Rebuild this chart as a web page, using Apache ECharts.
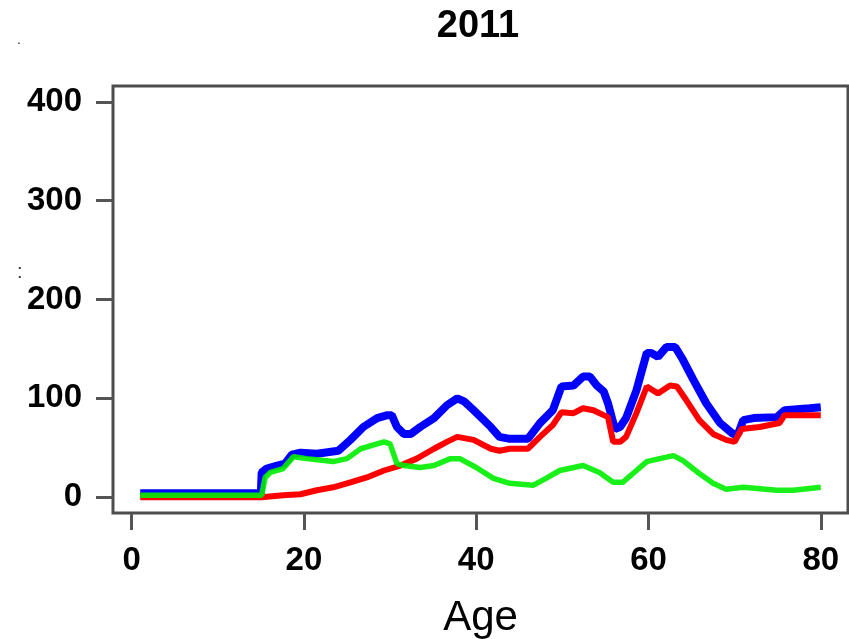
<!DOCTYPE html>
<html>
<head>
<meta charset="utf-8">
<script src="https://cdn.jsdelivr.net/npm/echarts@6/dist/echarts.min.js"></script>
<style>
html,body{margin:0;padding:0;background:#fff;}
#chart{width:849px;height:639px;}
</style>
</head>
<body>
<div id="chart"></div>
<script>
// ---- data ----
var titleText = '2011';
var xName = 'Age';
var xTicks = [0, 20, 40, 60, 80];
var yTicks = [0, 100, 200, 300, 400];

var blueAge = [1, 15, 15.1, 15.7, 16.9, 17.8, 18.6, 19.6, 21.5, 24, 25.4, 26.9, 28.5, 29.7, 30.2, 30.8, 31.6, 32.4, 33.5, 35.1, 36.6, 37.8, 38.6, 39.7, 41.7, 42.7, 43.9, 46, 47.4, 48.9, 49.9, 51.3, 52.4, 53.2, 54, 54.8, 55.3, 56.1, 56.7, 57.4, 58.6, 59.8, 60.3, 61.1, 62.1, 63.1, 64, 65.2, 66.7, 68.3, 69.8, 70.4, 71, 72.2, 74.9, 75.8, 78.7, 80];
var blueVal = [4, 4, 25, 29, 32, 34, 43, 45, 44, 47, 58, 71, 80, 83, 83, 71, 64, 64, 71, 80, 93, 100, 97, 88, 71, 61, 59, 59, 75, 88, 112, 113, 122, 122, 113, 107, 95, 69, 71, 80, 108, 146, 146, 142, 152, 152, 139, 119, 95, 75, 64, 64, 78, 80, 81, 88, 90, 91];

var redAge = [1, 15.1, 17.6, 19.6, 21.5, 23.4, 25.4, 27.3, 29.3, 31.2, 33.1, 35.1, 36.6, 37.8, 39.7, 41.7, 42.7, 43.9, 46, 47.4, 48.9, 49.9, 51.3, 52.4, 53.6, 54.8, 55.3, 55.9, 56.7, 57.4, 58.6, 59.8, 61.1, 62.5, 63.3, 64.4, 65.9, 67.5, 69, 70, 70.8, 72.9, 75.2, 75.8, 80];
var redVal = [0, 0, 2, 3, 7, 10, 15, 20, 27, 32, 39, 49, 56, 61, 58, 49, 47, 49, 49, 61, 73, 86, 85, 90, 88, 83, 81, 56, 56, 61, 85, 112, 105, 113, 112, 98, 78, 64, 58, 56, 69, 71, 75, 83, 83];

var greenAge = [1, 15.1, 15.5, 16.1, 17.6, 18.8, 20.3, 23.4, 25, 26.6, 28.1, 29.3, 30, 30.8, 31.6, 33.5, 35.1, 37, 38.1, 40, 42, 43.9, 46.6, 48.1, 49.7, 52.4, 54.3, 55.9, 57, 58.6, 59.8, 61.3, 62.9, 64, 65.9, 67.5, 69, 71, 74.9, 76.8, 80];
var greenVal = [2, 2, 20, 25, 29, 41, 39, 36, 39, 49, 53, 56, 54, 34, 32, 30, 32, 39, 39, 30, 19, 14, 12, 19, 27, 32, 25, 15, 15, 27, 36, 39, 42, 37, 24, 14, 8, 10, 7, 7, 10];

function pairs(a, v) { return a.map(function (x, i) { return [x, v[i]]; }); }

var font = '"Liberation Sans", Arial, Helvetica, sans-serif';
var chart = echarts.init(document.getElementById('chart'), null, {renderer: 'canvas'});
chart.setOption({
  animation: false,
  backgroundColor: '#ffffff',
  title: {
    text: titleText,
    left: 478,
    top: 8,
    padding: 0,
    textAlign: 'center',
    textStyle: {fontFamily: font, fontSize: 38, fontWeight: 'bold', color: '#000'}
  },
  graphic: [
    {type: 'text', left: 17, top: 33, style: {text: '.', font: '14px ' + font, fill: '#333'}},
    {type: 'text', left: 17, top: 262, style: {text: ':', font: '20px ' + font, fill: '#333'}}
  ],
  grid: {
    left: 113, top: 86, width: 735, height: 427,
    containLabel: false, outerBoundsMode: 'none',
    show: true, borderColor: '#4d4d4d', borderWidth: 3, backgroundColor: 'transparent'
  },
  xAxis: {
    type: 'value', min: -2.16, max: 83.16,
    name: xName, nameLocation: 'middle', nameGap: 84,
    nameTextStyle: {fontFamily: font, fontSize: 42, color: '#000'},
    axisLine: {show: false, onZero: false},
    splitLine: {show: false},
    axisTick: {show: true, inside: false, customValues: xTicks, length: 17, lineStyle: {color: '#555', width: 3}},
    axisLabel: {customValues: xTicks, margin: 31, fontFamily: font, fontSize: 33, fontWeight: 'bold', color: '#000'}
  },
  yAxis: {
    type: 'value', min: -16, max: 416,
    axisLine: {show: false, onZero: false},
    splitLine: {show: false},
    axisTick: {show: true, inside: false, customValues: yTicks, length: 17, lineStyle: {color: '#555', width: 3}},
    axisLabel: {customValues: yTicks, margin: 31, fontFamily: font, fontSize: 33, fontWeight: 'bold', color: '#000'}
  },
  series: [
    {name: 'blue', type: 'line', data: pairs(blueAge, blueVal), showSymbol: false, z: 2,
     lineStyle: {color: '#0000ff', width: 8}, itemStyle: {color: '#0000ff'}},
    {name: 'red', type: 'line', data: pairs(redAge, redVal), showSymbol: false, z: 3,
     lineStyle: {color: '#ff0000', width: 6}, itemStyle: {color: '#ff0000'}},
    {name: 'green', type: 'line', data: pairs(greenAge, greenVal), showSymbol: false, z: 4,
     lineStyle: {color: '#00ee00', width: 5.5, opacity: 0.9}, itemStyle: {color: '#00ee00'}}
  ]
});
</script>
</body>
</html>
